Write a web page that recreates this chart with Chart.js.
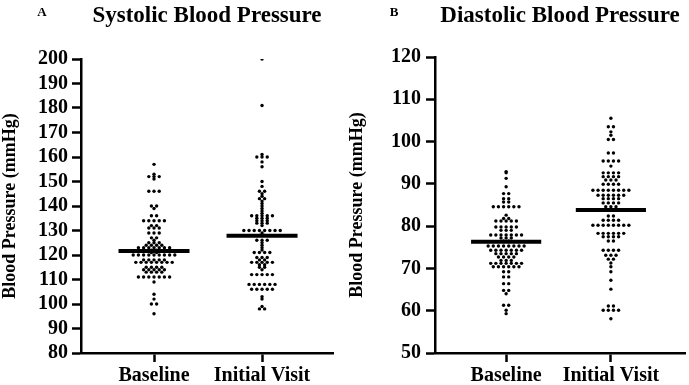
<!DOCTYPE html>
<html><head><meta charset="utf-8">
<script src="https://cdn.jsdelivr.net/npm/chart.js@4/dist/chart.umd.min.js"></script>
<style>
html,body{margin:0;padding:0;background:#fff;}
#wrap{position:relative;width:689px;height:385px;background:#fff;}
canvas{position:absolute;top:0;}
#cA{left:0;} #cB{left:345px;}
</style></head><body>
<div id="wrap"><canvas id="cA" width="345" height="385"></canvas><canvas id="cB" width="344" height="385"></canvas></div>
<script>
// ---------- data ----------
const categories = ['Baseline', 'Initial Visit'];

const sbpTicks = [80, 90, 100, 110, 120, 130, 140, 150, 160, 170, 180, 190, 200];
const dbpTicks = [50, 60, 70, 80, 90, 100, 110, 120];

const sbpBaseline = [157, 153, 152, 152, 152, 151, 146, 146, 146, 140, 140, 139, 136, 136,
  134, 134, 134, 134, 134, 132, 132, 131, 131, 131, 129, 129, 129, 127, 127, 126,
  125, 125, 125, 124, 124, 124, 124, 123, 123, 123, 123, 123, 123, 123, 122, 122, 121, 121,
  120, 120, 120, 120, 120, 120, 120, 120, 120, 118, 118, 118, 118, 118,
  117, 117, 117, 117, 117, 117, 117, 117, 115, 115, 115, 115, 114, 114, 114, 114, 114,
  113, 113, 113, 113, 111, 111, 111, 111, 111, 111, 111, 109, 104, 102, 100, 100, 96];

const sbpInitial = [200, 181, 161, 160, 160, 160, 158, 156, 150, 148, 146, 146, 145, 144, 143, 143,
  142, 141, 140, 139, 138, 137, 136, 136, 136, 136, 136, 135, 135, 135, 134, 134, 134,
  133, 133, 133, 132, 130, 130, 130, 130, 130, 130, 130, 130, 129, 128, 128,
  126, 126, 126, 125, 124, 123, 122, 121, 121, 121, 121, 119, 119, 119, 118, 118,
  117, 117, 117, 117, 117, 116, 116, 115, 115, 114, 112, 112, 112, 112, 112,
  108, 108, 108, 108, 108, 108, 106, 106, 106, 106, 106, 103, 102, 99, 98, 98];

const dbpBaseline = [92.9, 92.6, 91.3, 89.3, 87.7, 87.7, 86.5, 86.5, 85.7, 85.7,
  84.6, 84.6, 84.6, 84.6, 84.6, 84.6, 82.6, 81.8, 81.8,
  81.2, 81.2, 81.2, 81.2, 81.2, 79.8, 79.8, 79.8, 79.8, 79.8, 79.0, 79.0, 79.0,
  77.9, 77.9, 77.9, 77.9, 77.9, 77.9, 77.9, 77.2, 77.2, 77.2, 76.5, 76.5,
  75.3, 75.3, 75.3, 75.3, 75.3, 75.3, 75.3, 75.3,
  74.3, 74.3, 74.3, 74.3, 74.3, 74.3, 74.3, 73.5, 73.5, 73.5, 73.5, 73.5,
  72.7, 72.7, 72.7, 72.7, 71.9, 71.9, 71.9,
  71.2, 71.2, 71.2, 71.2, 71.2, 71.2, 71.2, 70.4, 70.4, 70.4, 70.4, 70.4, 70.4,
  69.2, 69.2, 68.0, 68.0, 66.4, 66.4, 64.8, 64.8, 64.0, 61.3, 61.3, 60.1, 59.3];

const dbpInitial = [105.5, 103.5, 103.5, 102.3, 101.5, 100.5, 100.5, 97.3, 97.3,
  95.4, 95.4, 95.4, 95.4, 94.2, 92.6, 92.6, 92.6, 92.6, 91.7, 91.7, 91.7, 91.7,
  90.9, 90.9, 90.9, 89.9, 89.9, 89.9, 89.9,
  88.5, 88.5, 88.5, 88.5, 88.5, 88.5, 88.5, 88.5, 87.3, 87.3, 87.3, 87.3, 87.3, 87.3,
  86.5, 86.5, 86.5, 86.5, 85.5, 85.5, 85.5, 85.5, 84.6, 84.6, 84.6, 83.8, 83.8, 83.8, 83.8,
  82.4, 82.4, 81.4, 81.4, 81.4, 81.4,
  80.2, 80.2, 80.2, 80.2, 80.2, 80.2, 80.2, 80.2, 78.3, 78.3, 78.3, 78.3, 78.3, 78.3,
  77.5, 77.5, 77.5, 77.5, 76.5, 76.5, 74.3, 74.3, 74.3, 74.3, 73.1, 73.1, 73.1, 72.2, 72.2,
  71.3, 70.4, 69.2, 67.2, 65.1, 61.1, 61.1, 60.1, 60.1, 60.1, 60.1, 58.1];

const sbpMeans = [121.6, 127.9];
const dbpMeans = [76.3, 83.8];

// ---------- helpers ----------
const FONT = '"Liberation Serif", "Times New Roman", serif';

// spread equal values into centred horizontal rows (beeswarm-like)
function swarm(values, center, stepUnits) {
  const groups = new Map();
  values.forEach(v => {
    const k = v.toFixed(2);
    if (!groups.has(k)) groups.set(k, []);
    groups.get(k).push(v);
  });
  const pts = [];
  groups.forEach(arr => {
    const n = arr.length;
    arr.forEach((v, i) => pts.push({ x: center + (i - (n - 1) / 2) * stepUnits, y: v }));
  });
  return pts;
}

const panelText = {
  id: 'panelText',
  afterDraw(chart, args, o) {
    const ctx = chart.ctx;
    ctx.save();
    ctx.fillStyle = '#000';
    ctx.textAlign = 'center';
    ctx.textBaseline = 'alphabetic';
    ctx.font = 'bold 13px ' + FONT;
    ctx.fillText(o.letter, o.letterX, 16);
    ctx.font = 'bold 23px ' + FONT;
    ctx.fillText(o.title, o.titleX, 22);
    ctx.restore();
  }
};

function makePanel(canvasId, groups, means, ticks, cfg) {
  const pxPerUnit = cfg.areaWidth / (cfg.xMax - cfg.xMin);
  const step = 5.2 / pxPerUnit;
  const halfLine = 35.5 / pxPerUnit;
  const datasets = [];
  means.forEach((m, i) => {
    datasets.push({
      data: [{ x: i + 1 - halfLine, y: m }, { x: i + 1 + halfLine, y: m }],
      showLine: true, borderColor: '#000', borderWidth: 4, pointRadius: 0,
      borderCapStyle: 'butt'
    });
  });
  groups.forEach((vals, i) => {
    datasets.push({
      data: swarm(vals, i + 1, step),
      backgroundColor: '#000', borderWidth: 0, pointRadius: 1.7,
      pointStyle: 'circle', showLine: false
    });
  });
  const axisGrid = { drawOnChartArea: false, drawTicks: true, tickLength: 9, tickWidth: 2.5, tickColor: '#000' };
  return new Chart(document.getElementById(canvasId), {
    type: 'scatter',
    data: { datasets },
    options: {
      responsive: false, animation: false, devicePixelRatio: 1,
      layout: { padding: { top: cfg.top, right: cfg.right, left: 0, bottom: 0 } },
      plugins: {
        legend: { display: false }, tooltip: { enabled: false },
        panelText: { letter: cfg.letter, letterX: cfg.letterX, title: cfg.title, titleX: cfg.titleX }
      },
      scales: {
        x: {
          type: 'linear', min: cfg.xMin, max: cfg.xMax,
          afterBuildTicks: s => { s.ticks = categories.map((c, i) => ({ value: i + 1 })); },
          afterFit: s => { s.height = 385 - cfg.bottom; },
          ticks: {
            callback: (v) => categories[Math.round(v) - 1],
            autoSkip: false, maxRotation: 0, color: '#000', padding: 2,
            font: { family: FONT, size: 20, weight: 'bold' }
          },
          grid: axisGrid,
          border: { color: '#000', width: 2.5 }
        },
        y: {
          min: ticks[0], max: ticks[ticks.length - 1],
          afterBuildTicks: s => { s.ticks = ticks.map(v => ({ value: v })); },
          afterFit: s => { s.width = cfg.axisX; },
          ticks: {
            color: '#000', padding: cfg.tickPad, autoSkip: false,
            font: { family: FONT, size: 20, weight: 'bold' }
          },
          grid: axisGrid,
          border: { color: '#000', width: 2.5 },
          title: {
            display: true, text: 'Blood Pressure (mmHg)', color: '#000',
            padding: { top: cfg.titlePad, bottom: 0 },
            font: { family: FONT, size: 18, weight: 'bold' }
          }
        }
      }
    },
    plugins: [panelText]
  });
}

makePanel('cA', [sbpBaseline, sbpInitial], sbpMeans, sbpTicks, {
  letter: 'A', letterX: 42, title: 'Systolic Blood Pressure', titleX: 207,
  axisX: 81, areaWidth: 252, xMin: 0.324, xMax: 2.657, top: 59, bottom: 353, right: 12,
  tickPad: 4, titlePad: 0
});
makePanel('cB', [dbpBaseline, dbpInitial], dbpMeans, dbpTicks, {
  letter: 'B', letterX: 49, title: 'Diastolic Blood Pressure', titleX: 215,
  axisX: 90, areaWidth: 253, xMin: 0.3208, xMax: 2.7076, top: 57, bottom: 353, right: 1,
  tickPad: 5, titlePad: 2
});
</script>
</body></html>
